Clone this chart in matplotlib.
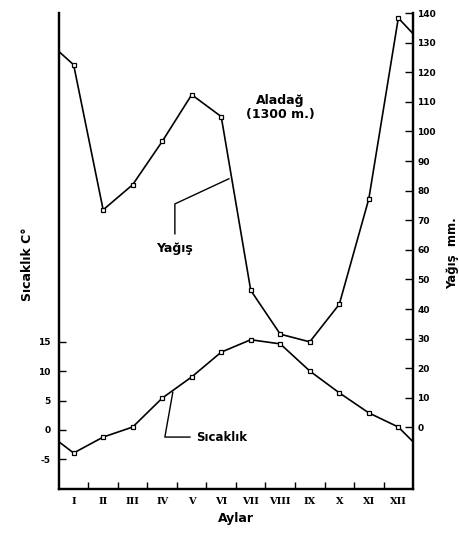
import matplotlib
matplotlib.use('Agg')
import matplotlib.pyplot as plt

months = [1, 2, 3, 4, 5, 6, 7, 8, 9, 10, 11, 12]
month_labels = ['I', 'II', 'III', 'IV', 'V', 'VI', 'VII', 'VIII', 'IX', 'X', 'XI', 'XII']
# monthly means
sicaklik = [-3.9, -1.2, 0.5, 5.4, 9.0, 13.2, 15.3, 14.6, 10.0, 6.3, 2.9, 0.5]
yagis = [122.5, 73.5, 82.0, 96.6, 112.4, 105.0, 46.3, 31.5, 28.9, 41.6, 77.2, 138.3]
# values where the curves meet the side axes
sicaklik_edges = [-2.0, -2.0]
yagis_edges = [127.0, 133.0]

temp_ticks = [-5, 0, 5, 10, 15]
rain_ticks = list(range(0, 150, 10))

plt.rcParams['font.family'] = 'DejaVu Sans'
fig = plt.figure(figsize=(4.6, 5.33), dpi=100)
ax = fig.add_axes([0.128, 0.0826, 0.77, 0.893])
ax2 = ax.twinx()

ax.set_xlim(0.5, 12.5)
ax.set_ylim(-10, 70.7)
ax2.set_ylim(-20.8, 140)

x_all = [0.5] + months + [12.5]
ax.plot(x_all, [sicaklik_edges[0]] + sicaklik + [sicaklik_edges[1]], color='black', lw=1.2)
ax.plot(months, sicaklik, ls='none', marker='s', ms=3.5, mfc='white', mec='black', mew=0.9)
ax2.plot(x_all, [yagis_edges[0]] + yagis + [yagis_edges[1]], color='black', lw=1.2)
ax2.plot(months, yagis, ls='none', marker='s', ms=3.5, mfc='white', mec='black', mew=0.9)

for a in (ax, ax2):
    a.spines['top'].set_visible(False)
    for s in ('left', 'right', 'bottom'):
        a.spines[s].set_linewidth(1.6)

# x axis: labels at month centres, small inner ticks at month borders
ax.set_xticks(months)
ax.set_xticklabels(month_labels, family='DejaVu Serif', fontweight='bold', fontsize=7)
ax.tick_params(axis='x', which='major', length=0, pad=6)
ax.set_xticks([m + 0.5 for m in months[:-1]], minor=True)
ax.tick_params(axis='x', which='minor', direction='in', length=5, width=1)

ax.set_yticks(temp_ticks)
ax.set_yticklabels([str(t) for t in temp_ticks], fontsize=6.5, fontweight='bold')
ax.tick_params(axis='y', direction='in', length=5, width=1, pad=6)

ax2.set_yticks(rain_ticks)
ax2.set_yticklabels([str(t) for t in rain_ticks], fontsize=6.5, fontweight='bold')
ax2.tick_params(axis='y', direction='in', length=6, width=1, pad=3)

ax.set_xlabel('Aylar', fontsize=9, fontweight='bold', labelpad=4)
fig.text(0.06, 0.505, 'Sıcaklık C°', rotation=90, ha='center', va='center',
         fontsize=9, fontweight='bold')
fig.text(0.985, 0.525, 'Yağış  mm.', rotation=90, ha='center', va='center',
         fontsize=8.5, fontweight='bold')

# station name
ax2.text(8.0, 108, 'Aladağ\n(1300 m.)', ha='center', va='center', fontsize=9,
         fontweight='bold', linespacing=1.1)

# leader for precipitation
ax2.plot([4.43, 4.43, 6.26], [65.4, 75.5, 84.0], color='black', lw=1)
ax2.text(4.43, 60.5, 'Yağış', ha='center', va='center', fontsize=9, fontweight='bold')

# leader for temperature
ax.plot([4.94, 4.09, 4.36], [-1.2, -1.2, 6.4], color='black', lw=1)
ax.text(5.15, -1.2, 'Sıcaklık', ha='left', va='center', fontsize=8.5, fontweight='bold')

fig.savefig('out.png', dpi=100)
